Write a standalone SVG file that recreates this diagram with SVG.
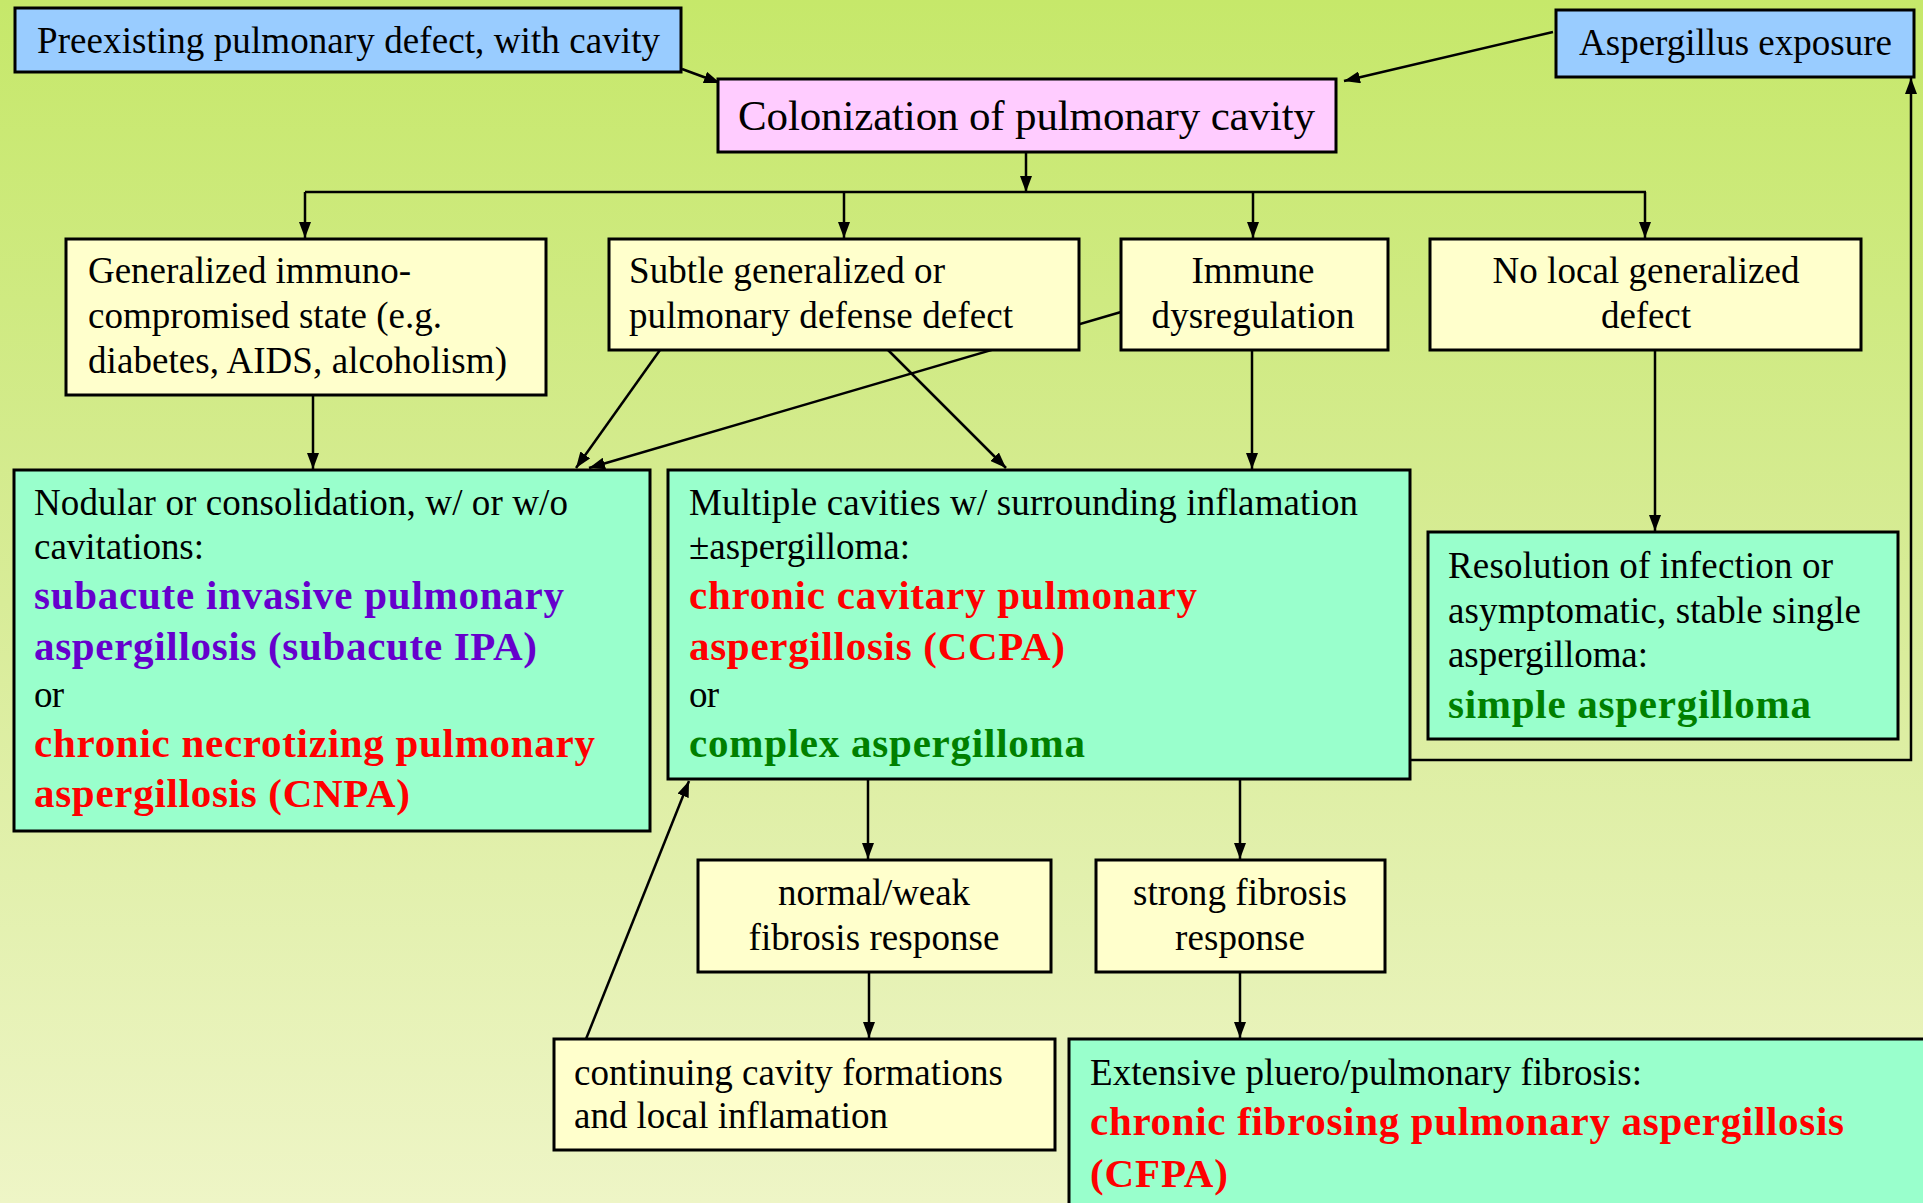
<svg xmlns="http://www.w3.org/2000/svg" width="1923" height="1203" viewBox="0 0 1923 1203">
<defs>
<linearGradient id="bg" x1="0" y1="0" x2="0" y2="1">
<stop offset="0" stop-color="#C6E86A"/>
<stop offset="0.5" stop-color="#D8EC98"/>
<stop offset="1" stop-color="#EEF5C6"/>
</linearGradient>
<marker id="ah" markerUnits="userSpaceOnUse" markerWidth="16" markerHeight="12" refX="16" refY="6" orient="auto">
<path d="M0,0 L16,6 L0,12 z" fill="#000"/>
</marker>
<style>
.box{stroke:#000;stroke-width:3}
.blue{fill:#99CCFF}.pink{fill:#FFCCFF}.yel{fill:#FFFFCC}.grn{fill:#99FFCC}
text{font-family:"Liberation Serif","Times New Roman",serif;font-size:37px;fill:#000}
.b{font-weight:bold;font-size:41px}
.pur{fill:#6600CC}.red{fill:#FF0000}.dg{fill:#008000}
.c{text-anchor:middle}
.ln{fill:none;stroke:#000;stroke-width:2.5}
.ar{marker-end:url(#ah)}
</style>
</defs>
<rect x="0" y="0" width="1923" height="1203" fill="url(#bg)"/>

<g id="connectors">
<line class="ln ar" x1="682" y1="69" x2="720" y2="83"/>
<line class="ln ar" x1="1553" y1="32" x2="1344" y2="81"/>
<line class="ln ar" x1="1026" y1="152" x2="1026" y2="192"/>
<line class="ln" x1="305" y1="192" x2="1646" y2="192"/>
<line class="ln ar" x1="305" y1="192" x2="305" y2="238"/>
<line class="ln ar" x1="844" y1="192" x2="844" y2="238"/>
<line class="ln ar" x1="1253" y1="192" x2="1253" y2="238"/>
<line class="ln ar" x1="1645" y1="192" x2="1645" y2="238"/>
<line class="ln ar" x1="313" y1="395" x2="313" y2="469"/>
<line class="ln ar" x1="660" y1="350" x2="576" y2="468"/>
<line class="ln ar" x1="1121" y1="312" x2="589" y2="468"/>
<line class="ln ar" x1="888" y1="350" x2="1006" y2="468"/>
<line class="ln ar" x1="1252" y1="350" x2="1252" y2="469"/>
<line class="ln ar" x1="1655" y1="350" x2="1655" y2="531"/>
<line class="ln ar" x1="868" y1="779" x2="868" y2="859"/>
<line class="ln ar" x1="1240" y1="779" x2="1240" y2="859"/>
<line class="ln ar" x1="869" y1="972" x2="869" y2="1038"/>
<line class="ln ar" x1="1240" y1="972" x2="1240" y2="1038"/>
<line class="ln ar" x1="586" y1="1039" x2="689" y2="781"/>
<polyline class="ln ar" points="1410,760 1911,760 1911,78"/>
</g>

<g id="preexisting">
<rect class="box blue" x="15" y="8" width="666" height="64"/>
<text x="37" y="53" textLength="623">Preexisting pulmonary defect, with cavity</text>
</g>
<g id="aspergillus">
<rect class="box blue" x="1556" y="10" width="358" height="67"/>
<text x="1579" y="55" textLength="313">Aspergillus exposure</text>
</g>
<g id="colonization">
<rect class="box pink" x="718" y="79" width="618" height="73"/>
<text x="738" y="130" style="font-size:43px" textLength="577">Colonization of pulmonary cavity</text>
</g>
<g id="generalized">
<rect class="box yel" x="66" y="239" width="480" height="156"/>
<text x="88" y="283" textLength="323">Generalized immuno-</text>
<text x="88" y="328" textLength="354">compromised state (e.g.</text>
<text x="88" y="373" textLength="419">diabetes, AIDS, alcoholism)</text>
</g>
<g id="subtle">
<rect class="box yel" x="609" y="239" width="470" height="111"/>
<text x="629" y="283" textLength="316">Subtle generalized or</text>
<text x="629" y="328" textLength="384">pulmonary defense defect</text>
</g>
<g id="immune">
<rect class="box yel" x="1121" y="239" width="267" height="111"/>
<text class="c" x="1253" y="283" textLength="123">Immune</text>
<text class="c" x="1253" y="328" textLength="203">dysregulation</text>
</g>
<g id="nolocal">
<rect class="box yel" x="1430" y="239" width="431" height="111"/>
<text class="c" x="1646" y="283" textLength="307">No local generalized</text>
<text class="c" x="1646" y="328" textLength="90">defect</text>
</g>
<g id="nodular">
<rect class="box grn" x="14" y="470" width="636" height="361"/>
<text x="34" y="515" textLength="534">Nodular or consolidation, w/ or w/o</text>
<text x="34" y="559" textLength="170">cavitations:</text>
<text class="b pur" x="34" y="609" textLength="530">subacute invasive pulmonary</text>
<text class="b pur" x="34" y="660" textLength="503">aspergillosis (subacute IPA)</text>
<text x="34" y="707" textLength="30">or</text>
<text class="b red" x="34" y="757" textLength="561">chronic necrotizing pulmonary</text>
<text class="b red" x="34" y="807" textLength="376">aspergillosis (CNPA)</text>
</g>
<g id="multiple">
<rect class="box grn" x="668" y="470" width="742" height="309"/>
<text x="689" y="515" textLength="669">Multiple cavities w/ surrounding inflamation</text>
<text x="689" y="559" textLength="221">±aspergilloma:</text>
<text class="b red" x="689" y="609" textLength="508">chronic cavitary pulmonary</text>
<text class="b red" x="689" y="660" textLength="376">aspergillosis (CCPA)</text>
<text x="689" y="707" textLength="30">or</text>
<text class="b dg" x="689" y="757" textLength="396">complex aspergilloma</text>
</g>
<g id="resolution">
<rect class="box grn" x="1428" y="532" width="470" height="207"/>
<text x="1448" y="578" textLength="385">Resolution of infection or</text>
<text x="1448" y="623" textLength="413">asymptomatic, stable single</text>
<text x="1448" y="667" textLength="200">aspergilloma:</text>
<text class="b dg" x="1448" y="718" textLength="363">simple aspergilloma</text>
</g>
<g id="normal">
<rect class="box yel" x="698" y="860" width="353" height="112"/>
<text class="c" x="874" y="905" textLength="192">normal/weak</text>
<text class="c" x="874" y="950" textLength="251">fibrosis response</text>
</g>
<g id="strong">
<rect class="box yel" x="1096" y="860" width="289" height="112"/>
<text class="c" x="1240" y="905" textLength="214">strong fibrosis</text>
<text class="c" x="1240" y="950" textLength="130">response</text>
</g>
<g id="continuing">
<rect class="box yel" x="554" y="1039" width="501" height="111"/>
<text x="574" y="1085" textLength="429">continuing cavity formations</text>
<text x="574" y="1128" textLength="314">and local inflamation</text>
</g>
<g id="extensive">
<rect class="box grn" x="1069" y="1039" width="900" height="200"/>
<text x="1090" y="1085" textLength="552">Extensive pluero/pulmonary fibrosis:</text>
<text class="b red" x="1090" y="1135" textLength="754">chronic fibrosing pulmonary aspergillosis</text>
<text class="b red" x="1090" y="1187" textLength="138">(CFPA)</text>
</g>
</svg>
